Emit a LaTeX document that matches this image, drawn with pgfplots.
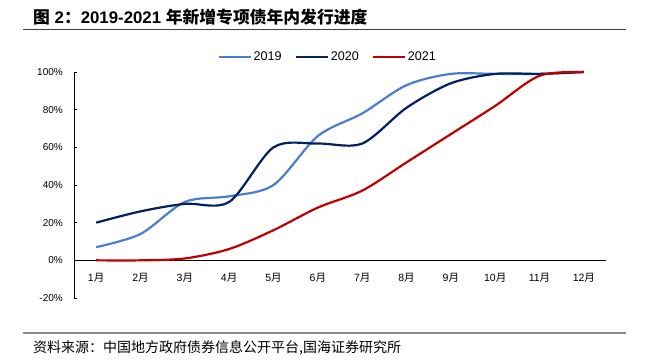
\documentclass[border=0pt]{standalone}
\usepackage{fontspec}
\setmainfont{Liberation Sans}
\newfontfamily\cjk{Noto Sans CJK SC}
\usepackage{pgfplots}
\pgfplotsset{compat=1.18}
\definecolor{c19}{RGB}{74,125,205}
\definecolor{c20}{RGB}{0,32,96}
\definecolor{c21}{RGB}{192,0,0}
\begin{document}
\begin{tikzpicture}
\useasboundingbox (0,0) rectangle (647pt,361pt);
\node[anchor=west,inner sep=0pt] at (33pt,344pt) {\fontsize{16.8}{17}\selectfont\bfseries{\cjk 图} 2{\cjk ：}2019-2021 {\cjk 年新增专项债年内发行进度}};
\draw[line width=1pt,color=black!75] (23pt,331pt) -- (626pt,331pt);
\draw[line width=2pt,color=black!45] (23pt,28pt) -- (626pt,28pt);
\node[anchor=west,inner sep=0pt] at (33pt,13pt) {\cjk\fontsize{14}{14}\selectfont 资料来源：中国地方政府债券信息公开平台,国海证券研究所};
\begin{axis}[
  at={(74pt,63pt)}, anchor=south west,
  scale only axis, width=532pt, height=226pt,
  xmin=0.5, xmax=12.5, ymin=-20, ymax=100,
  axis x line*=middle, axis y line*=left,
  axis line style={line width=0.8pt, black},
  xtick={1,...,12},
  xticklabels={1{\cjk 月},2{\cjk 月},3{\cjk 月},4{\cjk 月},5{\cjk 月},6{\cjk 月},7{\cjk 月},8{\cjk 月},9{\cjk 月},10{\cjk 月},11{\cjk 月},12{\cjk 月}},
  xtick style={draw=none},
  xticklabel style={font=\fontsize{10.5}{10.5}\selectfont, anchor=center, inner sep=0pt, yshift=-17pt},
  ytick={-20,0,20,40,60,80,100},
  yticklabels={-20\%,0\%,20\%,40\%,60\%,80\%,100\%},
  yticklabel style={font=\fontsize{10}{10}\selectfont, anchor=east, inner sep=0pt, xshift=-11pt},
  tick align=inside, major tick length=3pt,
  ytick style={line width=0.8pt, black},
  legend style={at={(rel axis cs:0.477,1.066)}, anchor=center, draw=none, fill=none,
    legend columns=3, font=\fontsize{12.6}{13}\selectfont,
    /tikz/every even column/.append style={column sep=11pt}},
  legend image code/.code={\draw[#1,line width=2pt] (0pt,0pt) -- (32pt,0pt);},
  legend cell align=left,
  clip=false,
]
\addplot[c19, line width=2.2pt, smooth] coordinates {
(1,7) (2,14) (3,31) (4,34) (5,40) (6,66) (7,78) (8,93) (9,99) (10,99) (11,99) (12,100)};
\addplot[c20, line width=2.2pt, smooth] coordinates {
(1,20) (2,26) (3,30) (4,31) (5,60) (6,62) (7,62) (8,81) (9,94) (10,99) (11,99) (12,100)};
\addplot[c21, line width=2.2pt, smooth] coordinates {
(1,0) (2,0) (3,1) (4,6) (5,16) (6,28) (7,37) (8,52) (9,67) (10,82) (11,98) (12,100)};
\legend{2019,2020,2021}
\end{axis}
\end{tikzpicture}
\end{document}
